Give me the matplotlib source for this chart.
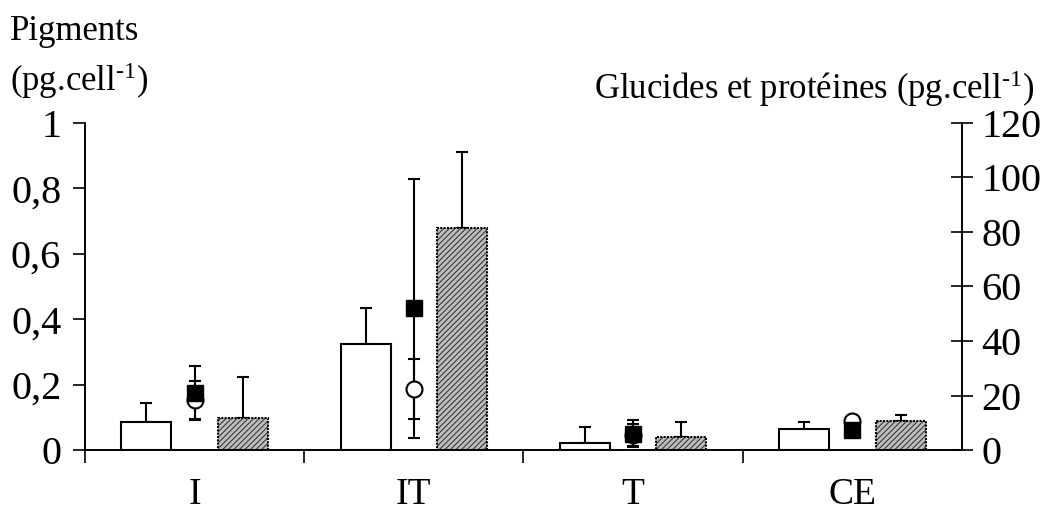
import matplotlib
matplotlib.use("Agg")
import matplotlib.pyplot as plt
import numpy as np

plt.rcParams['font.family'] = ['Liberation Serif', 'DejaVu Serif']
plt.rcParams['mathtext.fontset'] = 'custom'
plt.rcParams['mathtext.rm'] = 'Liberation Serif'
plt.rcParams['mathtext.default'] = 'regular'
plt.rcParams['hatch.linewidth'] = 0.7

# data
categories = ['I', 'IT', 'T', 'CE']
pig_white = [0.085, 0.325, 0.022, 0.065]
pig_white_err = [0.06, 0.11, 0.048, 0.022]
pig_hatch = [0.098, 0.68, 0.04, 0.088]
pig_hatch_err = [0.125, 0.23, 0.045, 0.02]
glucides = [18.5, 22.5, 5.5, 10.5]       # open circles
glucides_err = [7, 11, 4, 1]
proteines = [21, 52, 6, 7.5]             # filled squares
proteines_err = [10, 47.5, 5, 1]
left_ticks = [0, 0.2, 0.4, 0.6, 0.8, 1]
left_labels = ['0', '0,2', '0,4', '0,6', '0,8', '1']
right_ticks = [0, 20, 40, 60, 80, 100, 120]

x = np.arange(len(categories))
w = 0.228
off = 0.22

fig = plt.figure(figsize=(10.58, 5.2), dpi=100)
ax = fig.add_axes([0.0803, 0.1346, 0.8289, 0.6289])
ax2 = ax.twinx()

# white bars
ax.bar(x - off, pig_white, w, color='white', edgecolor='black', linewidth=1.5, zorder=2)
ax.errorbar(x - off, pig_white, yerr=[np.zeros(4), pig_white_err], fmt='none',
            ecolor='black', elinewidth=1.5, capsize=4.5, capthick=1.5, zorder=1)
# hatched bars
ax.bar(x + off, pig_hatch, w, color='#bdbdbd', edgecolor='#2a2a2a', hatch='//////',
       linewidth=0, zorder=2)
ax.bar(x + off, pig_hatch, w, color='none', edgecolor='black', linewidth=1.5,
       linestyle=(0, (1, 0.6)), zorder=3)
ax.errorbar(x + off, pig_hatch, yerr=[np.zeros(4), pig_hatch_err], fmt='none',
            ecolor='black', elinewidth=1.5, capsize=4.5, capthick=1.5, zorder=1)

# glucides / proteines on right axis
ax2.errorbar(x, proteines, yerr=proteines_err, fmt='none', ecolor='black',
             elinewidth=1.5, capsize=4.5, capthick=1.5, zorder=1)
ax2.errorbar(x, glucides, yerr=glucides_err, fmt='o', color='black', mfc='white',
             mec='black', mew=1.5, ms=11.5, elinewidth=1.5, capsize=4.5, capthick=1.5,
             zorder=2)
ax2.plot(x, proteines, 's', color='black', ms=11.5, zorder=3)

ax.set_xlim(-0.5, 3.5)
ax.set_ylim(0, 1)
ax2.set_ylim(0, 120)

for a in (ax, ax2):
    a.spines['top'].set_visible(False)
    for s in a.spines.values():
        s.set_linewidth(1.2)

ax.set_yticks(left_ticks)
ax.set_yticklabels(left_labels)
ax.tick_params(axis='y', direction='out', length=9, width=1.2, labelsize=29, pad=8)
ax2.set_yticks(right_ticks)
ax2.tick_params(axis='y', direction='inout', length=16, width=1.2, labelsize=29, pad=6)

ax.set_xticks(x)
ax.set_xticklabels(categories)
ax.tick_params(axis='x', length=0, labelsize=27, pad=20)
ax.set_xticks([-0.5, 0.5, 1.5, 2.5], minor=True)
ax.tick_params(axis='x', which='minor', direction='out', length=9, width=1.2)

fig.text(0.009, 0.94, 'Pigments', fontsize=25, ha='left', va='center')
fig.text(0.009, 0.845, '(pg.cell$^{\\text{-1}}$)', fontsize=25, ha='left', va='center')
fig.text(0.978, 0.83, 'Glucides et protéines (pg.cell$^{\\text{-1}}$)', fontsize=25,
         ha='right', va='center')

fig.savefig('out.png', dpi=100)
